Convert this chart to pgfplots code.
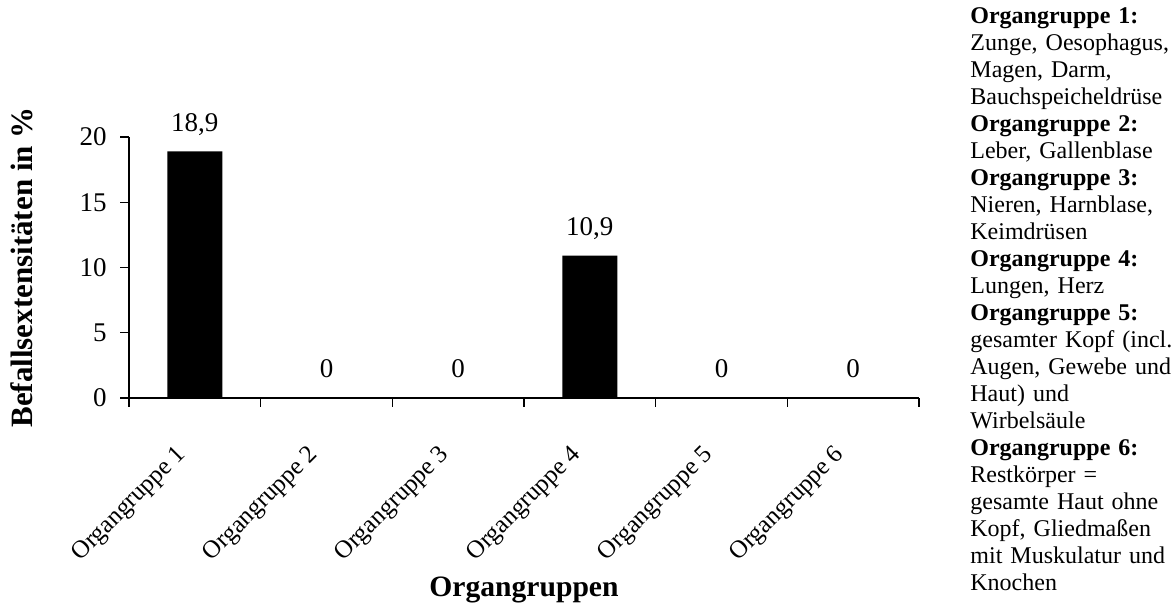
\documentclass[border=0pt]{standalone}
\usepackage{fontspec}
\setmainfont{Liberation Serif}
\usepackage{pgfplots}
\pgfplotsset{compat=1.18}
\begin{document}
\begin{tikzpicture}
\path[use as bounding box] (0,0) rectangle (588pt,304pt);
\begin{axis}[
  at={(64.5pt,105pt)}, anchor=south west,
  scale only axis, width=395pt, height=130.5pt,
  xmin=-0.5, xmax=5.5, ymin=0, ymax=20,
  axis x line*=bottom, axis y line*=left,
  axis line style={line width=0.6pt, black},
  every tick/.style={black, line width=0.6pt},
  tick align=outside,
  major tick length=4.5pt,
  ytick={0,5,10,15,20},
  xtick={-0.5,0.5,...,5.5},
  xticklabels={},
  extra x ticks={0,1,2,3,4,5},
  extra x tick labels={Organgruppe 1,Organgruppe 2,Organgruppe 3,Organgruppe 4,Organgruppe 5,Organgruppe 6},
  extra x tick style={major tick length=0pt,
    xticklabel style={xshift=-6pt, yshift=-26.5pt, rotate=45, anchor=east, inner sep=0pt, font=\fontsize{12.5}{14}\selectfont}},
  /pgf/number format/assume math mode=true,
  /pgf/number format/use comma,
  /pgf/number format/fixed,
  /pgf/number format/precision=1,
  yticklabel style={anchor=east, inner sep=0pt, font=\fontsize{13.5}{15}\selectfont, xshift=-6.5pt},
  ylabel={Befallsextensitäten in \%},
  every axis y label/.style={at={(axis description cs:-0.1354,0.5)}, rotate=90, anchor=center,
    font=\bfseries\fontsize{15.5}{17}\selectfont},
  xlabel={Organgruppen},
  every axis x label/.style={at={(axis description cs:0.5,-0.7356)}, anchor=center,
    font=\bfseries\fontsize{14.8}{16}\selectfont},
  ybar, bar width=27.5pt, bar shift=0pt,
  nodes near coords,
  every node near coord/.append style={anchor=base, inner sep=0pt, yshift=10pt, black,
    font=\fontsize{13.5}{15}\selectfont},
  clip=false,
]
\addplot[fill=black, draw=none] coordinates {(0,18.9) (1,0) (2,0) (3,10.9) (4,0) (5,0)};
\end{axis}
\node[anchor=north west, inner sep=0pt, text width=110pt, align=left,
  font=\fontsize{12}{13.5}\selectfont] at (485pt,300.5pt) {%
\textbf{Organgruppe 1:}\\
Zunge, Oesophagus,\\
Magen, Darm,\\
Bauchspeicheldrüse\\
\textbf{Organgruppe 2:}\\
Leber, Gallenblase\\
\textbf{Organgruppe 3:}\\
Nieren, Harnblase,\\
Keimdrüsen\\
\textbf{Organgruppe 4:}\\
Lungen, Herz\\
\textbf{Organgruppe 5:}\\
gesamter Kopf (incl.\\
Augen, Gewebe und\\
Haut) und\\
Wirbelsäule\\
\textbf{Organgruppe 6:}\\
Restkörper =\\
gesamte Haut ohne\\
Kopf, Gliedmaßen\\
mit Muskulatur und\\
Knochen};
\end{tikzpicture}
\end{document}
